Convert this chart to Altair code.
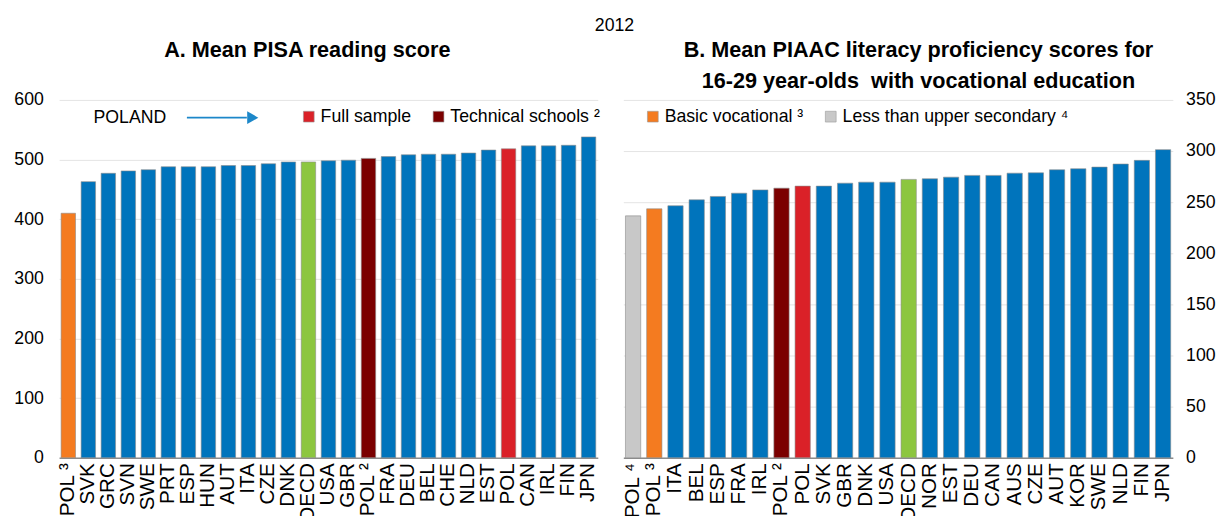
import altair as alt
import pandas as pd

FONT = "Liberation Sans, Arial, sans-serif"

# ---- Panel A data (PISA reading 2012) ----
a_countries = ["POL ³", "SVK", "GRC", "SVN", "SWE", "PRT", "ESP", "HUN", "AUT", "ITA",
               "CZE", "DNK", "OECD", "USA", "GBR", "POL ²", "FRA", "DEU", "BEL", "CHE",
               "NLD", "EST", "POL", "CAN", "IRL", "FIN", "JPN"]
a_values = [410, 463, 477, 481, 483, 488, 488, 488, 490, 490,
            493, 496, 496, 498, 499, 502, 505, 508, 509, 509,
            511, 516, 518, 523, 523, 524, 538]
a_groups = ["Basic vocational ³", "Other", "Other", "Other", "Other", "Other", "Other", "Other", "Other", "Other",
            "Other", "Other", "OECD", "Other", "Other", "Technical schools ²", "Other", "Other", "Other", "Other",
            "Other", "Other", "Full sample", "Other", "Other", "Other", "Other"]

# ---- Panel B data (PIAAC literacy, 16-29 with vocational education) ----
b_countries = ["POL ⁴", "POL ³", "ITA", "BEL", "ESP", "FRA", "IRL", "POL ²", "POL", "SVK",
               "GBR", "DNK", "USA", "OECD", "NOR", "EST", "DEU", "CAN", "AUS", "CZE",
               "AUT", "KOR", "SWE", "NLD", "FIN", "JPN"]
b_values = [236.6, 243.5, 246.5, 252.3, 255.6, 258.8, 262.0, 263.7, 265.7, 265.7,
            268.6, 269.6, 269.6, 272.3, 272.9, 274.5, 276.2, 276.2, 278.4, 278.7,
            281.7, 282.7, 284.3, 287.3, 290.9, 301.4]
b_groups = ["Less than upper secondary ⁴", "Basic vocational ³", "Other", "Other", "Other", "Other", "Other",
            "Technical schools ²", "Full sample", "Other",
            "Other", "Other", "Other", "OECD", "Other", "Other", "Other", "Other", "Other", "Other",
            "Other", "Other", "Other", "Other", "Other", "Other"]

group_domain = ["Other", "OECD", "Full sample", "Technical schools ²",
                "Basic vocational ³", "Less than upper secondary ⁴"]
group_colors = ["#0074BC", "#8CC63F", "#DA2128", "#7B0000", "#F47B20", "#C8C8C8"]

df_a = pd.DataFrame({"country": a_countries, "value": a_values, "group": a_groups})
df_b = pd.DataFrame({"country": b_countries, "value": b_values, "group": b_groups})

color_scale = alt.Scale(domain=group_domain, range=group_colors)


def bars(df, ymax, step, orient, legend_vals, legend_x, padding_label):
    return alt.Chart(df).mark_bar(stroke="#8a8a8a", strokeWidth=0.6).encode(
        x=alt.X("country:N", sort=None, title=None,
                scale=alt.Scale(paddingInner=0.28, paddingOuter=0.1),
                axis=alt.Axis(labelAngle=-90, labelAlign="right", labelBaseline="middle",
                              ticks=False, domainColor="#8c8c8c", domainWidth=1.5,
                              labelPadding=5, labelFontSize=21, grid=False)),
        y=alt.Y("value:Q", title=None,
                scale=alt.Scale(domain=[0, ymax], nice=False, zero=True),
                axis=alt.Axis(values=list(range(0, ymax + 1, step)), orient=orient,
                              ticks=False, domain=False, grid=True, gridColor="#e3e3e3",
                              labelPadding=padding_label, labelFontSize=18)),
        color=alt.Color("group:N", scale=color_scale,
                        legend=alt.Legend(values=legend_vals, orient="none", direction="horizontal",
                                          legendX=legend_x, legendY=8, title=None,
                                          symbolType="square", symbolSize=120,
                                          symbolStrokeColor="#999999", symbolStrokeWidth=0.6,
                                          labelFontSize=18, labelFont=FONT, columnPadding=18,
                                          labelOffset=3, labelLimit=500, symbolOpacity=1)),
    )


# Panel A
bars_a = bars(df_a, 600, 100, "left", ["Full sample", "Technical schools ²"], 245, 16)
poland_txt = alt.Chart(pd.DataFrame({"t": ["POLAND"]})).mark_text(
    font=FONT, fontSize=18, align="center", baseline="middle", color="black"
).encode(x=alt.value(72), y=alt.value(18), text="t:N")
arrow_line = alt.Chart(pd.DataFrame({"t": ["a"]})).mark_rule(color="#1C87C9", strokeWidth=2).encode(
    x=alt.value(130), x2=alt.value(191), y=alt.value(18))
arrow_head = alt.Chart(pd.DataFrame({"t": ["a"]})).mark_point(
    shape="triangle-right", filled=True, color="#1C87C9", size=170, opacity=1
).encode(x=alt.value(197), y=alt.value(18))

panel_a = alt.layer(bars_a, poland_txt, arrow_line, arrow_head).properties(
    width=548, height=364,
    title=alt.Title("A. Mean PISA reading score", fontSize=22, fontWeight="bold",
                    font=FONT, offset=30, anchor="middle", frame="bounds"),
)

# Panel B
bars_b = bars(df_b, 350, 50, "right", ["Basic vocational ³", "Less than upper secondary ⁴"], 21, 13)
panel_b = bars_b.properties(
    width=559, height=364,
    title=alt.Title(["B. Mean PIAAC literacy proficiency scores for",
                     "16-29 year-olds\u00a0 with vocational education"],
                    fontSize=22, fontWeight="bold", font=FONT, lineHeight=32,
                    offset=-2, anchor="middle", frame="bounds"),
)

chart = alt.hconcat(panel_a, panel_b, spacing=21).resolve_scale(
    color="independent"
).resolve_legend(color="independent").properties(
    title=alt.Title("2012", fontSize=18, fontWeight="normal", font=FONT, anchor="middle", offset=4),
    padding={"left": 5, "top": 5, "right": 5, "bottom": 5},
).configure_axis(
    labelFont=FONT, labelColor="black"
).configure_view(stroke=None).configure_legend(labelColor="black")

chart.save("out.html", embed_options={"renderer": "svg", "actions": False})
